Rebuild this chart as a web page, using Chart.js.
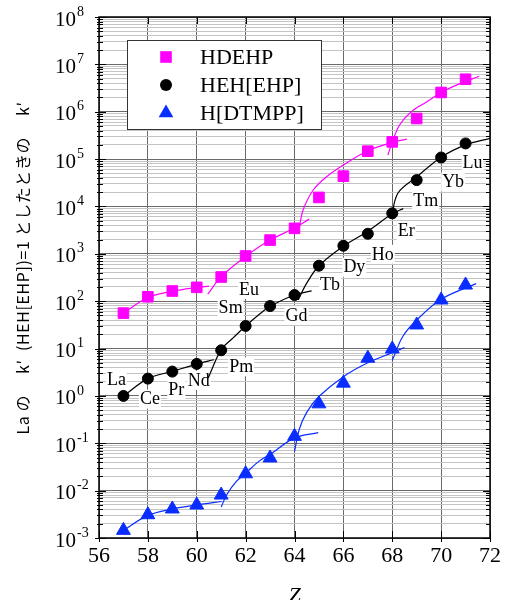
<!DOCTYPE html>
<html>
<head>
<meta charset="utf-8">
<script src="https://cdn.jsdelivr.net/npm/chart.js@4.4.1/dist/chart.umd.min.js"></script>
<style>
html, body { margin: 0; padding: 0; background: #fff; }
#wrap { width: 506px; height: 600px; position: relative; }
</style>
</head>
<body>
<div id="wrap"><canvas id="tetradChart"></canvas></div>
<script>
// 原子番号と元素名
const atomicNumbers = [57, 58, 59, 60, 61, 62, 63, 64, 65, 66, 67, 68, 69, 70, 71];
const elementNames = ['La', 'Ce', 'Pr', 'Nd', 'Pm', 'Sm', 'Eu', 'Gd', 'Tb', 'Dy', 'Ho', 'Er', 'Tm', 'Yb', 'Lu'];

// 各抽出剤の k′ （La の k′(HEH[EHP]) = 1）
const hdehpK = [56, 124, 164, 196, 324, 900, 1950, 3450, 15500, 43700, 147000, 231000, 720000, 2.55e6, 4.85e6];
const hehEhpK = [1.0, 2.32, 3.26, 4.74, 9.2, 30, 79, 135, 561, 1480, 2650, 7150, 36000, 108000, 214000];
const hdtmppK = [1.45e-3, 3.1e-3, 4.1e-3, 4.97e-3, 8.07e-3, 0.0227, 0.049, 0.14, 0.68, 1.86, 6.25, 9.8, 31.5, 106, 219];

// テトラッド効果のフィット曲線（図から読んだ点 [Z, k′]）
const hdehpCurves = [
    [[57, 56], [58, 120], [59, 162], [60, 195], [60.5, 208]],
    [[60.45, 140], [61, 330], [62, 880], [63, 1950], [64, 3500], [64.6, 5400]],
    [[64.2, 3700], [64.35, 8400], [64.76, 22000], [65.3, 42000], [66, 75000], [67, 150000], [68, 225000], [68.6, 265000]],
    [[67.82, 121000], [68, 229000], [68.3, 525000], [68.78, 1.0e6], [69.4, 1.6e6], [70, 2.55e6], [70.6, 3.6e6], [71.56, 5.6e6]]
];
const hehEhpCurves = [
    [[57, 1.0], [58, 2.32], [59, 3.3], [60, 4.7], [60.7, 5.8]],
    [[60.47, 2.4], [61, 9.5], [61.5, 17], [62, 30], [62.6, 55], [63, 78], [64, 135], [64.7, 165]],
    [[64.15, 106], [64.5, 240], [65, 560], [66, 1450], [67, 3000], [68, 7000], [68.45, 9000]],
    [[67.96, 5600], [68.23, 19000], [69, 42000], [70, 110000], [71, 200000], [72, 275000]]
];
const hdtmppCurves = [
    [[57, 1.45e-3], [58, 3.0e-3], [59, 4.1e-3], [60, 5.0e-3], [61.02, 5.9e-3]],
    [[61, 4.5e-3], [61.22, 8.1e-3], [61.63, 0.0158], [62, 0.0233], [62.58, 0.043], [63, 0.058], [64, 0.13], [64.97, 0.168]],
    [[64, 0.067], [64.2, 0.2], [64.5, 0.45], [65, 0.97], [66, 2.55], [67, 5.0], [68, 8.2], [68.5, 10.5]],
    [[68, 5.6], [68.43, 18], [69, 40], [70, 110], [71.43, 235]]
];

// 軸
const xTicks = [56, 58, 60, 62, 64, 66, 68, 70, 72];
const yExponents = [-3, -2, -1, 0, 1, 2, 3, 4, 5, 6, 7, 8];

// 元素ラベルの位置（黒丸からのずれ, px）
const labelDx = [-7, 2, 4, 2, 20, -15, -21, 2, 11, 11, 15, 14, 9, 12, 7];
const labelDy = [-17, 20, 18, 16, 16, -19, -17, 20, 19, 21, 20, 17, 20, 24, 19];

const serif = '"Liberation Serif", "Times New Roman", serif';
const MAGENTA = '#ff00ff';
const BLUE = '#0a2dff';

function isDecade(v) {
    const l = Math.log10(v);
    return Math.abs(l - Math.round(l)) < 1e-9;
}

function markerSet(label, values, color, style, radius) {
    return {
        label: label,
        data: atomicNumbers.map((z, i) => ({ x: z, y: values[i] })),
        showLine: false,
        pointStyle: style,
        pointRadius: radius,
        pointBackgroundColor: color,
        pointBorderColor: color,
        pointBorderWidth: 1
    };
}

function curveSets(curves, color) {
    return curves.map(c => ({
        label: '',
        data: c.map(p => ({ x: p[0], y: p[1] })),
        showLine: true,
        pointRadius: 0,
        borderColor: color,
        borderWidth: 1.2,
        tension: 0.35,
        fill: false
    }));
}

const markers = [
    markerSet('HDEHP', hdehpK, MAGENTA, 'rect', 7.5),
    markerSet('HEH[EHP]', hehEhpK, '#000', 'circle', 5.5),
    markerSet('H[DTMPP]', hdtmppK, BLUE, 'triangle', 8)
];

function drawMarker(ctx, style, x, y, r, color) {
    ctx.fillStyle = color;
    ctx.beginPath();
    if (style === 'rect') {
        const s = r * Math.SQRT1_2;
        ctx.rect(x - s - 0.5, y - s - 0.5, 2 * s + 1, 2 * s + 1);
    } else if (style === 'circle') {
        ctx.arc(x, y, r + 0.5, 0, Math.PI * 2);
    } else {
        for (let k = 0; k < 3; k++) {
            const a = k * 2 * Math.PI / 3;
            ctx.lineTo(x + Math.sin(a) * (r + 0.5), y - Math.cos(a) * (r + 0.5));
        }
        ctx.closePath();
    }
    ctx.fill();
}

const decorPlugin = {
    id: 'decor',
    beforeDatasetsDraw(chart) {
        const { ctx, scales: { x, y } } = chart;
        ctx.save();
        ctx.font = '18px ' + serif;
        ctx.textAlign = 'center';
        ctx.textBaseline = 'middle';
        elementNames.forEach((name, i) => {
            const px = x.getPixelForValue(atomicNumbers[i]) + labelDx[i];
            const py = y.getPixelForValue(hehEhpK[i]) + labelDy[i];
            const w = ctx.measureText(name).width;
            ctx.fillStyle = '#fff';
            ctx.fillRect(px - w / 2 - 1, py - 9, w + 2, 19);
            ctx.fillStyle = '#000';
            ctx.fillText(name, px, py + 1);
        });
        ctx.restore();
    },
    afterDraw(chart) {
        const { ctx, chartArea: a, scales: { x, y } } = chart;
        ctx.save();

        // 枠と目盛り
        ctx.strokeStyle = '#000';
        ctx.lineWidth = 1.5;
        ctx.strokeRect(a.left, a.top, a.right - a.left, a.bottom - a.top);
        ctx.lineWidth = 1;
        ctx.beginPath();
        y.ticks.forEach(t => {
            const py = Math.round(y.getPixelForValue(t.value)) + 0.5;
            const len = isDecade(t.value) ? 7 : 4;
            ctx.moveTo(a.left - (isDecade(t.value) ? 4 : 2), py);
            ctx.lineTo(a.left + len, py);
            ctx.moveTo(a.right - len, py);
            ctx.lineTo(a.right, py);
        });
        xTicks.forEach(v => {
            const px = Math.round(x.getPixelForValue(v)) + 0.5;
            ctx.moveTo(px, a.bottom + 4);
            ctx.lineTo(px, a.bottom - 7);
            ctx.moveTo(px, a.top);
            ctx.lineTo(px, a.top + 7);
        });
        ctx.stroke();

        // y 目盛りラベル 10^n
        ctx.fillStyle = '#000';
        ctx.textAlign = 'left';
        ctx.textBaseline = 'middle';
        yExponents.forEach(e => {
            const py = y.getPixelForValue(Math.pow(10, e));
            ctx.font = '21px ' + serif;
            ctx.fillText('10', 55, py + 3);
            const w = ctx.measureText('10').width;
            ctx.font = '14px ' + serif;
            ctx.fillText(String(e), 55 + w + 1, py - 5);
        });

        // 軸タイトル
        ctx.font = 'italic 22px ' + serif;
        ctx.textAlign = 'center';
        ctx.textBaseline = 'alphabetic';
        ctx.fillText('Z', (a.left + a.right) / 2, 602);

        ctx.save();
        ctx.translate(23, 268);
        ctx.rotate(-Math.PI / 2);
        ctx.font = '16px "Noto Sans CJK JP", "Noto Sans", sans-serif';
        ctx.textBaseline = 'middle';
        ctx.letterSpacing = '0.6px';
        ctx.fillText('La の     k′  (HEH[EHP])=1 としたときの     k′', 0, 0);
        ctx.restore();

        // 凡例
        ctx.fillStyle = '#fff';
        ctx.fillRect(127.5, 40.5, 194, 89);
        ctx.strokeStyle = '#333';
        ctx.lineWidth = 1;
        ctx.strokeRect(127.5, 40.5, 194, 89);
        ctx.font = '22px ' + serif;
        ctx.textAlign = 'left';
        ctx.textBaseline = 'middle';
        markers.forEach((ds, i) => {
            const ly = 57 + i * 28;
            drawMarker(ctx, ds.pointStyle, 166, ly, ds.pointRadius, ds.pointBackgroundColor);
            ctx.fillStyle = '#000';
            ctx.fillText(ds.label, 200, ly + 1);
        });
        ctx.restore();
    }
};

new Chart(document.getElementById('tetradChart'), {
    type: 'scatter',
    data: {
        datasets: [
            ...markers,
            ...curveSets(hdehpCurves, MAGENTA),
            ...curveSets(hehEhpCurves, '#000'),
            ...curveSets(hdtmppCurves, BLUE)
        ]
    },
    options: {
        responsive: true,
        maintainAspectRatio: false,
        animation: false,
        layout: { padding: { top: 17, right: 15, left: 0, bottom: 0 } },
        plugins: {
            legend: { display: false },
            tooltip: { enabled: false }
        },
        scales: {
            x: {
                type: 'linear',
                min: 56,
                max: 72,
                afterBuildTicks: s => { s.ticks = xTicks.map(v => ({ value: v })); },
                afterFit: s => { s.height = 62; },
                border: { display: false },
                grid: { color: '#6a6a6a', lineWidth: 1, drawTicks: false },
                ticks: {
                    color: '#000',
                    padding: 5,
                    font: { family: serif, size: 22 },
                    maxRotation: 0
                }
            },
            y: {
                type: 'logarithmic',
                min: 1e-3,
                max: 1e8,
                afterBuildTicks: s => {
                    const t = [];
                    for (let e = -3; e < 8; e++) {
                        for (let k = 1; k <= 9; k++) t.push({ value: k * Math.pow(10, e) });
                    }
                    t.push({ value: 1e8 });
                    s.ticks = t;
                },
                afterFit: s => { s.width = 99; },
                border: { display: false },
                grid: {
                    drawTicks: false,
                    color: c => (c.tick && isDecade(c.tick.value)) ? '#6a6a6a' : '#c4c4c4',
                    lineWidth: 1
                },
                ticks: { display: false }
            }
        }
    },
    plugins: [decorPlugin]
});
</script>
</body>
</html>
